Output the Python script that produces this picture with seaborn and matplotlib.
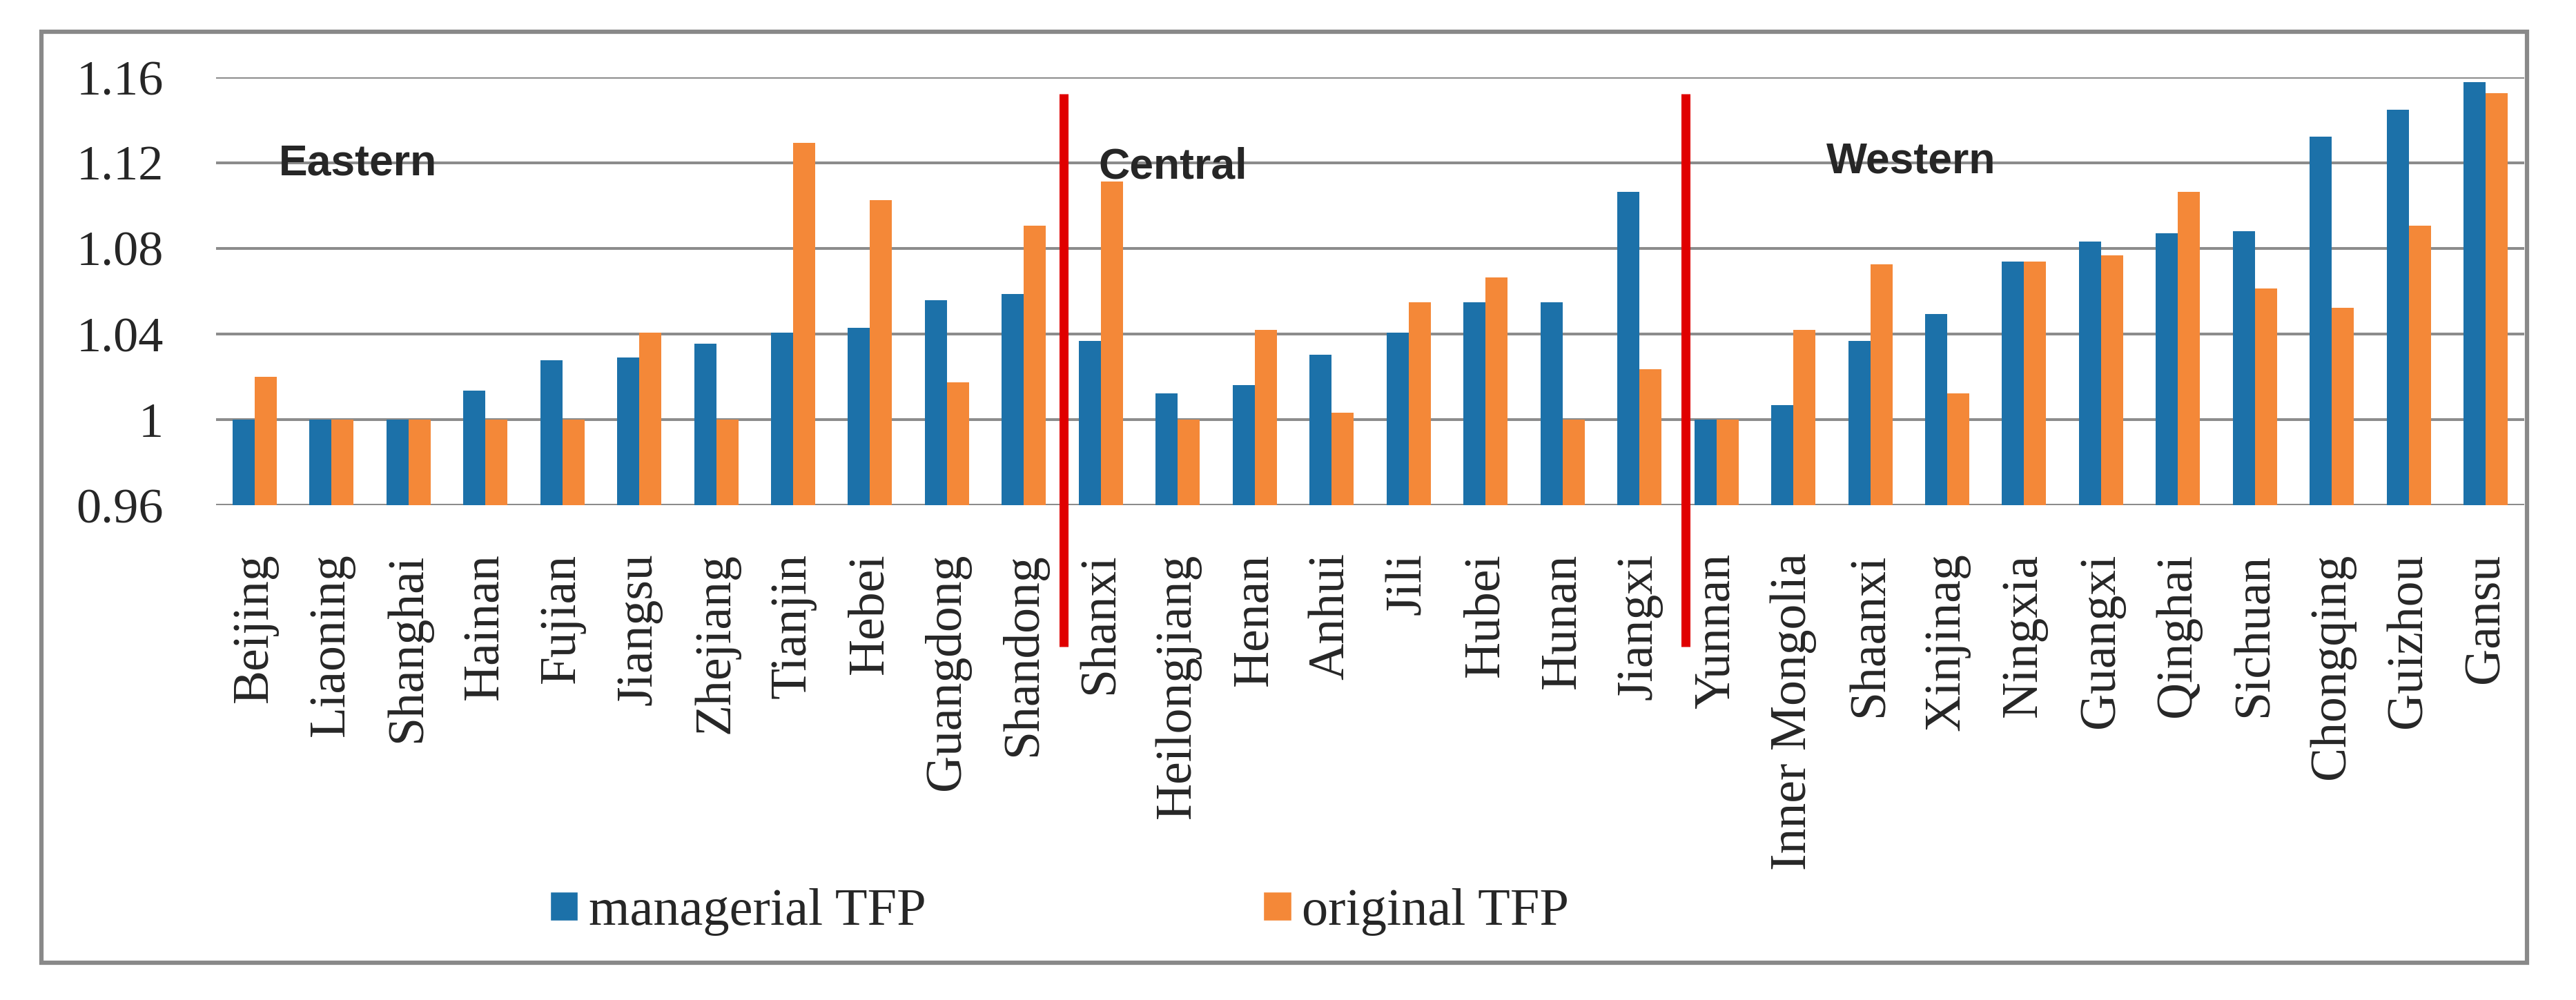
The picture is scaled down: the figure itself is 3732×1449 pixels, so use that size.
import matplotlib
matplotlib.use("Agg")
import matplotlib.pyplot as plt
import numpy as np
import pandas as pd
import seaborn as sns
from matplotlib.patches import Rectangle, Patch

# data
provinces = ["Beijing", "Liaoning", "Shanghai", "Hainan", "Fujian", "Jiangsu", "Zhejiang",
             "Tianjin", "Hebei", "Guangdong", "Shandong",
             "Shanxi", "Heilongjiang", "Henan", "Anhui", "Jili", "Hubei", "Hunan", "Jiangxi",
             "Yunnan", "Inner Mongolia", "Shaanxi", "Xinjinag", "Ningxia", "Guangxi",
             "Qinghai", "Sichuan", "Chongqing", "Guizhou", "Gansu"]
managerial_tfp = [1.000, 1.000, 1.000, 1.0135, 1.0276, 1.029, 1.0354, 1.0405, 1.043, 1.0559, 1.0586,
                  1.0367, 1.0122, 1.016, 1.0303, 1.0405, 1.0549, 1.0549, 1.1063,
                  1.000, 1.0069, 1.0367, 1.0495, 1.074, 1.0831, 1.087, 1.0882, 1.1321, 1.1449, 1.1579]
original_tfp = [1.020, 1.000, 1.000, 1.000, 1.000, 1.0405, 1.000, 1.1295, 1.1025, 1.0173, 1.0908,
                1.1114, 1.000, 1.0418, 1.0033, 1.0549, 1.0663, 1.000, 1.0237,
                1.000, 1.0418, 1.0727, 1.0122, 1.074, 1.0767, 1.1063, 1.0612, 1.0521, 1.0908, 1.1527]
series_names = ["managerial TFP", "original TFP"]
y_ticks = [0.96, 1.00, 1.04, 1.08, 1.12, 1.16]
y_tick_labels = ["0.96", "1", "1.04", "1.08", "1.12", "1.16"]
regions = ["Eastern", "Central", "Western"]

df = pd.DataFrame({
    "province": provinces * 2,
    "TFP": managerial_tfp + original_tfp,
    "series": [series_names[0]] * len(provinces) + [series_names[1]] * len(provinces),
})

sns.set_style("white")
plt.rcParams["font.family"] = ["Liberation Serif", "DejaVu Serif"]

W, H = 3732, 1449
fig = plt.figure(figsize=(W / 100, H / 100), dpi=100)
ax = fig.add_axes([313 / W, 1 - 732 / H, (3657 - 313) / W, (732 - 112) / H])

sns.barplot(data=df, x="province", y="TFP", hue="series", order=provinces,
            palette=["#1c71a9", "#f48838"], width=0.574, errorbar=None,
            linewidth=0, saturation=1, ax=ax, legend=False)

ax.set_xlim(-0.5, len(provinces) - 0.5)
ax.set_ylim(0.96, 1.16)
ax.set_yticks(y_ticks)
ax.set_yticklabels(y_tick_labels, fontsize=52)
ax.set_xticks(range(len(provinces)))
ax.set_xticklabels(provinces, rotation=90, fontsize=53)
ax.tick_params(axis="y", length=0, pad=55)
ax.tick_params(axis="x", length=0, pad=50)
ax.set_xlabel("")
ax.set_ylabel("")
for s in ax.spines.values():
    s.set_visible(False)
ax.set_axisbelow(True)
ax.yaxis.grid(True, color="#8c8c8c", linewidth=2.9)
ax.xaxis.grid(False)

# region dividers
for xv in [10.52, 18.6]:
    ax.plot([xv, xv], [0.894, 1.1523], color="#e00000", linewidth=9.4,
            solid_capstyle="butt", clip_on=False, zorder=5)

# region names
for name, xv, yv in zip(regions, [0.316, 10.965, 20.43], [1.1142, 1.1129, 1.1152]):
    ax.text(xv, yv, name, fontsize=45, fontweight="bold",
            family=["Liberation Sans", "DejaVu Sans"],
            ha="left", va="baseline", zorder=6)

# legend
handles = [Patch(facecolor="#1c71a9"), Patch(facecolor="#f48838")]
fig.legend(handles, series_names, loc="center left", bbox_to_anchor=(797 / W, 1 - 1322 / H),
           ncol=2, frameon=False, fontsize=55, borderpad=0, borderaxespad=0,
           handlelength=0.53, handleheight=0.47, handletextpad=0.2, columnspacing=6.4)

# outer frame
fig.patches.append(Rectangle((59.5 / W, 1 - 1395 / H), (3661 - 59.5) / W, (1395 - 46) / H,
                             transform=fig.transFigure, fill=False, edgecolor="#898989",
                             linewidth=4.5))

fig.savefig("out.png", dpi=100)
